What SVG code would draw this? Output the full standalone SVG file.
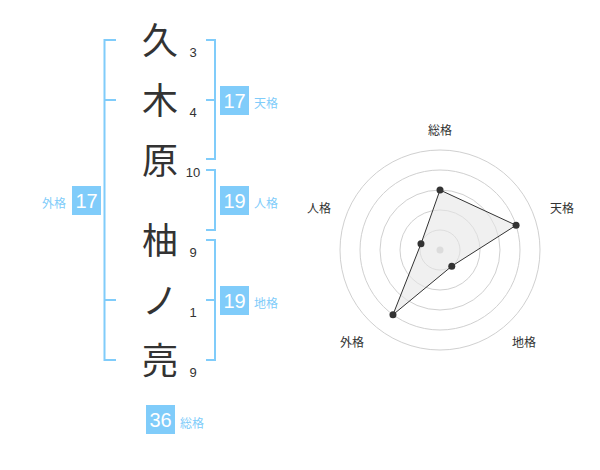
<svg xmlns="http://www.w3.org/2000/svg" width="600" height="470" viewBox="0 0 600 470">
<style>
.ch{font-family:"Noto Sans CJK JP","Noto Sans CJK SC",sans-serif;font-size:36px;fill:#333;text-anchor:middle}
.num{font-family:"Liberation Sans",Arial,sans-serif;font-size:13px;fill:#333;text-anchor:middle}
.br{fill:none;stroke:#80ccfa;stroke-width:2}
.box{fill:#80ccfa}
.bv{font-family:"Liberation Sans",Arial,sans-serif;font-size:20px;fill:#fff;text-anchor:middle}
.bl{font-family:"Noto Sans CJK JP","Noto Sans CJK SC",sans-serif;font-size:12px;fill:#80ccfa}
.ring{fill:none;stroke:#d0d0d0;stroke-width:1}
.rl{font-family:"Noto Sans CJK JP","Noto Sans CJK SC",sans-serif;font-size:12px;fill:#333;text-anchor:middle}
.pt{fill:#333}
</style>
<rect width="600" height="470" fill="#fff"/>
<g id="chars">
<g id="c1"><text class="ch" x="160" y="54">久</text><text class="num" x="193" y="57">3</text></g>
<g id="c2"><text class="ch" x="160" y="114">木</text><text class="num" x="193" y="117">4</text></g>
<g id="c3"><text class="ch" x="160" y="174">原</text><text class="num" x="193" y="177">10</text></g>
<g id="c4"><text class="ch" x="160" y="254">柚</text><text class="num" x="193" y="257">9</text></g>
<g id="c5"><text class="ch" x="160" y="314">ノ</text><text class="num" x="193" y="317">1</text></g>
<g id="c6"><text class="ch" x="160" y="374">亮</text><text class="num" x="193" y="377">9</text></g>
</g>
<g id="connectors">
<path class="br" d="M116,40 H104.5 V360 H116 M104.5,100 H116 M104.5,300 H116"/>
<path class="br" d="M206,40 H215 V159 H206 M206,100 H215"/>
<path class="br" d="M206,170 H215 V230 H206"/>
<path class="br" d="M206,240 H215 V360 H206 M206,300 H215"/>
</g>
<g id="tenkaku"><rect class="box" x="220" y="86" width="29" height="29"/><text class="bv" x="234.5" y="107.5">17</text><text class="bl" x="254" y="108">天格</text></g>
<g id="jinkaku"><rect class="box" x="220" y="186" width="29" height="29"/><text class="bv" x="234.5" y="207.5">19</text><text class="bl" x="254" y="208">人格</text></g>
<g id="chikaku"><rect class="box" x="220" y="286" width="29" height="29"/><text class="bv" x="234.5" y="307.5">19</text><text class="bl" x="254" y="308">地格</text></g>
<g id="gaikaku"><rect class="box" x="72" y="186" width="29" height="29"/><text class="bv" x="86.5" y="207.5">17</text><text class="bl" x="66" y="208" text-anchor="end">外格</text></g>
<g id="soukaku"><rect class="box" x="146" y="405" width="29" height="29"/><text class="bv" x="160.5" y="426.5">36</text><text class="bl" x="180" y="428">総格</text></g>
<g id="radar">
<circle class="ring" cx="440" cy="250" r="20"/>
<circle class="ring" cx="440" cy="250" r="40"/>
<circle class="ring" cx="440" cy="250" r="60"/>
<circle class="ring" cx="440" cy="250" r="80"/>
<circle class="ring" cx="440" cy="250" r="100"/>
<circle cx="440" cy="250" r="3.5" fill="#ccc"/>
<polygon points="440,190 516.08,225.28 451.76,266.18 392.98,314.72 420.98,243.82" fill="#e6e6e6" fill-opacity="0.6" stroke="#333" stroke-width="1"/>
<circle class="pt" cx="440" cy="190" r="3.5"/>
<circle class="pt" cx="516.08" cy="225.28" r="3.5"/>
<circle class="pt" cx="451.76" cy="266.18" r="3.5"/>
<circle class="pt" cx="392.98" cy="314.72" r="3.5"/>
<circle class="pt" cx="420.98" cy="243.82" r="3.5"/>
<text class="rl" x="440" y="134.5">総格</text>
<text class="rl" x="562" y="212.5">天格</text>
<text class="rl" x="319" y="212.5">人格</text>
<text class="rl" x="352" y="346.5">外格</text>
<text class="rl" x="524" y="346.5">地格</text>
</g>
</svg>
